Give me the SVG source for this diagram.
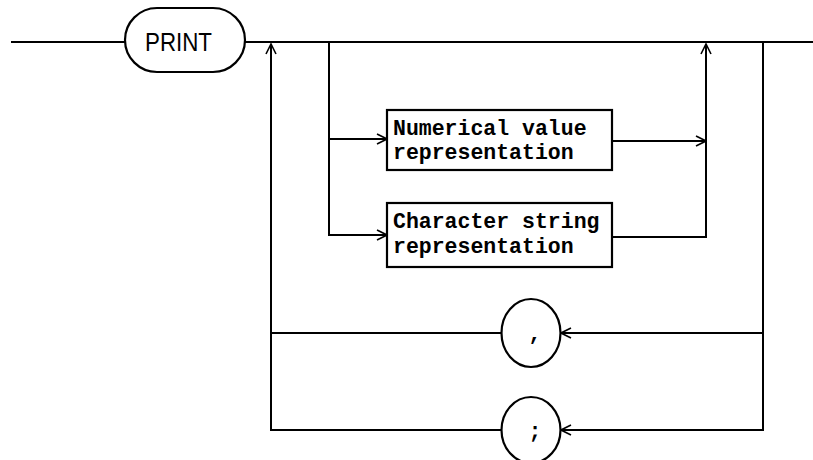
<svg xmlns="http://www.w3.org/2000/svg" width="813" height="460" viewBox="0 0 813 460">
<style>
.ln{fill:none;stroke:#000;stroke-width:2}
.bx{fill:#fff;stroke:#000;stroke-width:2.2}
.t{font-family:"Liberation Mono","Courier New",monospace;font-size:21.5px;font-weight:bold;fill:#000}
.kw{font-family:"Liberation Sans",Arial,sans-serif;font-size:26px;fill:#000}
</style>
<defs>
<marker id="ar" viewBox="0 0 12 12" refX="11" refY="6" markerWidth="12" markerHeight="12" markerUnits="userSpaceOnUse" orient="auto">
<path d="M1,1 L11,6 L1,11" fill="none" stroke="#000" stroke-width="1.6"/>
</marker>
</defs>
<g id="connectors">
<line class="ln" x1="11" y1="42" x2="126" y2="42"/>
<line class="ln" x1="245" y1="42" x2="813" y2="42"/>
<polyline class="ln" points="502,430 271,430 271,44" marker-end="url(#ar)"/>
<line class="ln" x1="271" y1="333" x2="502" y2="333"/>
<polyline class="ln" points="329,42 329,235 387,235" marker-end="url(#ar)"/>
<line class="ln" x1="329" y1="139" x2="387" y2="139" marker-end="url(#ar)"/>
<line class="ln" x1="612" y1="141" x2="706" y2="141" marker-end="url(#ar)"/>
<polyline class="ln" points="612,237 706,237 706,44" marker-end="url(#ar)"/>
<polyline class="ln" points="763,42 763,430 561,430" marker-end="url(#ar)"/>
<line class="ln" x1="763" y1="333" x2="561" y2="333" marker-end="url(#ar)"/>
</g>
<g id="print">
<rect class="bx" x="125" y="8" width="120" height="64" rx="32" ry="32"/>
<text class="kw" x="145" y="51" textLength="67" lengthAdjust="spacingAndGlyphs">PRINT</text>
</g>
<g id="numerical">
<rect class="bx" x="387" y="110" width="225" height="60"/>
<text class="t" x="393" y="135">Numerical value</text>
<text class="t" x="393" y="159">representation</text>
</g>
<g id="character">
<rect class="bx" x="387" y="203" width="225" height="64"/>
<text class="t" x="393" y="228">Character string</text>
<text class="t" x="393" y="253">representation</text>
</g>
<g id="comma">
<ellipse class="bx" cx="531" cy="333" rx="29.5" ry="34"/>
<text class="t" x="535" y="340" text-anchor="middle">,</text>
</g>
<g id="semicolon">
<ellipse class="bx" cx="531" cy="430" rx="29.5" ry="33"/>
<text class="t" x="535" y="438" text-anchor="middle">;</text>
</g>
</svg>
